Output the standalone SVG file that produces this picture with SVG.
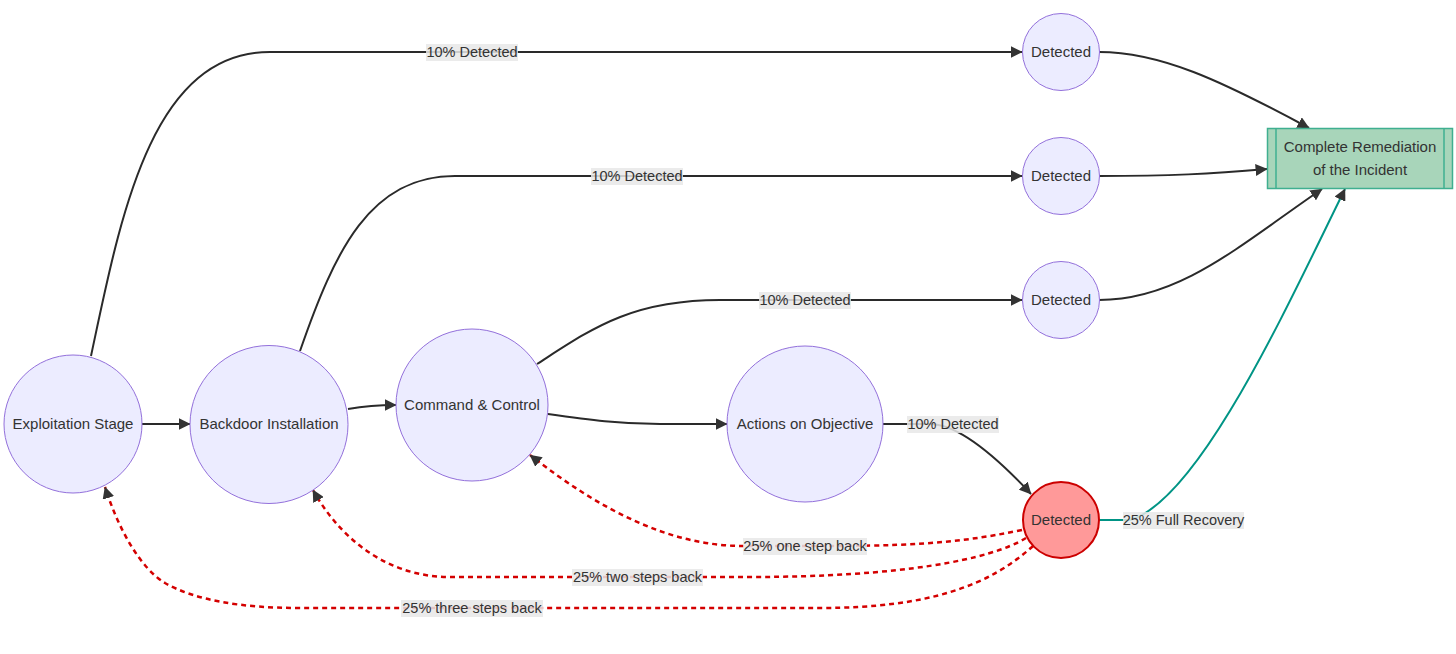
<svg xmlns="http://www.w3.org/2000/svg" width="1456" height="654" viewBox="0 0 1456 654">
<defs>
<marker id="arr" viewBox="0 0 10 10" refX="9.5" refY="5" markerUnits="userSpaceOnUse" markerWidth="12" markerHeight="12" orient="auto"><path d="M0,0 L10,5 L0,10 z" fill="#333"/></marker>
<style>
.node circle{fill:#ECECFF;stroke:#9370DB;stroke-width:1}
.node.red circle{fill:#FF9999;stroke:#CC0000;stroke-width:2}
text{font-family:"Liberation Sans",Arial,sans-serif;font-size:15px;fill:#333;text-anchor:middle}
#labels text{font-size:14.5px}
.e{fill:none;stroke:#2a2a2a;stroke-width:2}
.d{fill:none;stroke:#D40000;stroke-width:2.5;stroke-dasharray:5 4}
.t{fill:none;stroke:#009485;stroke-width:2}
.lb{fill:#e8e8e8;opacity:0.85}
</style>
</defs>
<rect width="1456" height="654" fill="#fff"/>
<g id="connectors">
<path class="e" d="M142,424 L190,424" marker-end="url(#arr)"/>
<path class="e" d="M348,409 C365,406 380,405 396,405" marker-end="url(#arr)"/>
<path class="e" d="M548,414 C590,420 620,424 660,424 L727,424" marker-end="url(#arr)"/>
<path class="e" d="M91,356 C120,220 150,52 270,52 L1022,52" marker-end="url(#arr)"/>
<path class="e" d="M300,351 C335,250 370,176 455,176 L1022,176" marker-end="url(#arr)"/>
<path class="e" d="M537,364 C590,330 630,300 720,300 L1022,300" marker-end="url(#arr)"/>
<path class="e" d="M883,424 L930,424 C955,424 990,450 1031,494" marker-end="url(#arr)"/>
<path class="e" d="M1099,52 C1160,52 1220,80 1309,128" marker-end="url(#arr)"/>
<path class="e" d="M1099,176 C1170,176 1210,174 1267,169" marker-end="url(#arr)"/>
<path class="e" d="M1099,300 C1180,300 1240,245 1322,189" marker-end="url(#arr)"/>
<path class="t" d="M1099,520 L1130,520 C1200,500 1290,300 1345,189" marker-end="url(#arr)"/>
<path class="d" d="M1022,530 C950,545 900,546 805,546 L743,546 C670,546 600,510 530,455" marker-end="url(#arr)"/>
<path class="d" d="M1026,538 C990,560 900,577 750,577 L450,577 C380,577 335,530 313,490" marker-end="url(#arr)"/>
<path class="d" d="M1033,546 C990,585 930,608 820,608 L300,608 C240,608 195,600 165,583 C140,568 118,528 105,487" marker-end="url(#arr)"/>
<g id="labels">
<rect class="lb" x="426" y="44" width="92" height="17"/><text x="472" y="57">10% Detected</text>
<rect class="lb" x="591" y="168" width="92" height="17"/><text x="637" y="181">10% Detected</text>
<rect class="lb" x="759" y="292" width="92" height="17"/><text x="805" y="305">10% Detected</text>
<rect class="lb" x="907" y="416" width="92" height="17"/><text x="953" y="429">10% Detected</text>
<rect class="lb" x="1123" y="512" width="121" height="17"/><text x="1183.5" y="525">25% Full Recovery</text>
<rect class="lb" x="743" y="538" width="124" height="17"/><text x="805" y="551">25% one step back</text>
<rect class="lb" x="572" y="569" width="131" height="17"/><text x="637.5" y="582">25% two steps back</text>
<rect class="lb" x="401" y="600" width="142" height="17"/><text x="472" y="613">25% three steps back</text>
</g>
</g>
<g id="exploitation" class="node"><circle cx="73" cy="424" r="69"/><text x="73" y="429">Exploitation Stage</text></g>
<g id="backdoor" class="node"><circle cx="269" cy="424.5" r="79"/><text x="269" y="429">Backdoor Installation</text></g>
<g id="c2" class="node"><circle cx="472" cy="405" r="76"/><text x="472" y="410">Command &amp; Control</text></g>
<g id="actions" class="node"><circle cx="805" cy="424" r="78"/><text x="805" y="429">Actions on Objective</text></g>
<g id="detected1" class="node"><circle cx="1061" cy="52" r="38.5"/><text x="1061" y="57">Detected</text></g>
<g id="detected2" class="node"><circle cx="1061" cy="176" r="38.5"/><text x="1061" y="181">Detected</text></g>
<g id="detected3" class="node"><circle cx="1061" cy="300" r="38.5"/><text x="1061" y="305">Detected</text></g>
<g id="detected4" class="node red"><circle cx="1061" cy="520" r="38"/><text x="1061" y="525">Detected</text></g>
<g id="remediation"><rect x="1267.5" y="128.5" width="185" height="60" fill="#A8D5BA" stroke="#3FAF90" stroke-width="1.5"/><line x1="1276" y1="128.5" x2="1276" y2="188.5" stroke="#3FAF90" stroke-width="1.5"/><line x1="1444" y1="128.5" x2="1444" y2="188.5" stroke="#3FAF90" stroke-width="1.5"/><text x="1360" y="152">Complete Remediation</text><text x="1360" y="175">of the Incident</text></g>
</svg>
